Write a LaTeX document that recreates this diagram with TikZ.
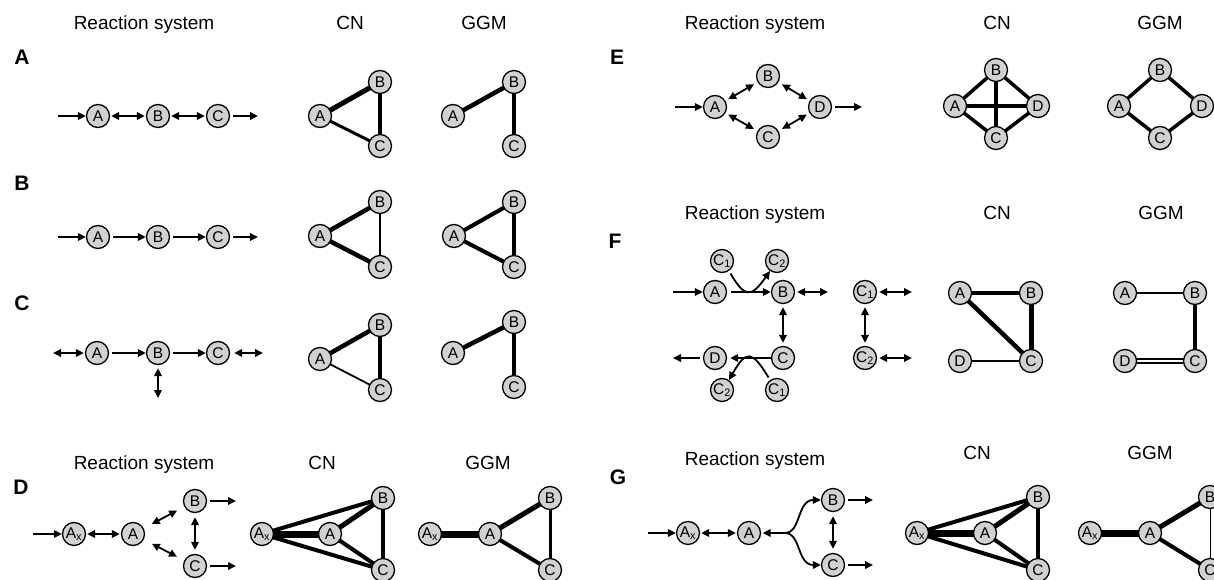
\documentclass[tikz,border=0pt]{standalone}
\usepackage{fontspec}
\setmainfont{Liberation Sans}
\usetikzlibrary{arrows.meta,backgrounds}
\begin{document}
\begin{tikzpicture}[x=1pt,y=-1pt,
  sp/.style={circle,draw=black,line width=1.3pt,fill=black!18,minimum size=23pt,inner sep=0pt,font=\fontsize{15.5}{16}\selectfont},
  ttl/.style={font=\fontsize{19}{20}\selectfont,anchor=base},
  plab/.style={font=\fontsize{21}{22}\selectfont\bfseries},
  rx/.style={line width=1.8pt,-{Triangle[length=8pt,width=7.5pt]}},
  rxb/.style={line width=1.8pt,{Triangle[length=8pt,width=7.5pt]}-{Triangle[length=8pt,width=7.5pt]}},
  w/.style={line width=#1}]
\useasboundingbox (0,0) rectangle (1214,580);

% ---------- titles and panel letters ----------
\node[ttl] (t1) at (144,30) {Reaction system};
\node[ttl] (t2) at (350,30) {CN};
\node[ttl] (t3) at (484,30) {GGM};
\node[ttl] (t4) at (755,30) {Reaction system};
\node[ttl] (t5) at (997,30) {CN};
\node[ttl] (t6) at (1160,30) {GGM};
\node[ttl] (t7) at (755,219) {Reaction system};
\node[ttl] (t8) at (997,219) {CN};
\node[ttl] (t9) at (1161,219) {GGM};
\node[ttl] (t10) at (144,469) {Reaction system};
\node[ttl] (t11) at (322,469) {CN};
\node[ttl] (t12) at (488,469) {GGM};
\node[ttl] (t13) at (755,465) {Reaction system};
\node[ttl] (t14) at (977,459) {CN};
\node[ttl] (t15) at (1150,459) {GGM};

\node[plab] (LA) at (22,57) {A};
\node[plab] (LB) at (22,183) {B};
\node[plab] (LC) at (22,303) {C};
\node[plab] (LD) at (21,487) {D};
\node[plab] (LE) at (617,57) {E};
\node[plab] (LF) at (615,241) {F};
\node[plab] (LG) at (618,477) {G};

% ---------- panel A ----------
\node[sp] (aA) at (98,116) {A};
\node[sp] (aB) at (158,116) {B};
\node[sp] (aC) at (218,116) {C};
\coordinate (a0) at (58,116);
\coordinate (a4) at (258,116);
\draw[rx] (a0) -- (aA);
\draw[rxb,shorten <=1pt,shorten >=1pt] (aA) -- (aB);
\draw[rxb,shorten <=1pt,shorten >=1pt] (aB) -- (aC);
\draw[rx,shorten <=3pt] (aC) -- (a4);

\node[sp] (acA) at (320,116) {A};
\node[sp] (acB) at (380,82) {B};
\node[sp] (acC) at (380,146) {C};
\node[sp] (agA) at (453,116) {A};
\node[sp] (agB) at (514,82) {B};
\node[sp] (agC) at (514,146) {C};
\begin{scope}[on background layer]
\draw[w=5pt] (acA.center) -- (acB.center);
\draw[w=3pt] (acA.center) -- (acC.center);
\draw[w=4.5pt] (acB.center) -- (acC.center);
\draw[w=4.5pt] (agA.center) -- (agB.center);
\draw[w=4pt] (agB.center) -- (agC.center);
\end{scope}

% ---------- panel B ----------
\node[sp] (bA) at (98,237) {A};
\node[sp] (bB) at (158,237) {B};
\node[sp] (bC) at (218,237) {C};
\coordinate (b0) at (58,237);
\coordinate (b4) at (258,237);
\draw[rx] (b0) -- (bA);
\draw[rx,shorten <=3pt] (bA) -- (bB);
\draw[rx,shorten <=3pt] (bB) -- (bC);
\draw[rx,shorten <=3pt] (bC) -- (b4);

\node[sp] (bcA) at (320,236) {A};
\node[sp] (bcB) at (380,202) {B};
\node[sp] (bcC) at (380,267) {C};
\node[sp] (bgA) at (454,236) {A};
\node[sp] (bgB) at (514,202) {B};
\node[sp] (bgC) at (514,267) {C};
\begin{scope}[on background layer]
\draw[w=4.5pt] (bcA.center) -- (bcB.center);
\draw[w=4.5pt] (bcA.center) -- (bcC.center);
\draw[w=2.5pt] (bcB.center) -- (bcC.center);
\draw[w=4pt] (bgA.center) -- (bgB.center);
\draw[w=4pt] (bgA.center) -- (bgC.center);
\draw[w=4pt] (bgB.center) -- (bgC.center);
\end{scope}

% ---------- panel C ----------
\node[sp] (cA) at (97,353) {A};
\node[sp] (cB) at (158,353) {B};
\node[sp] (cC) at (218,353) {C};
\coordinate (c0) at (53,353);
\coordinate (c4) at (263,353);
\coordinate (cd) at (158,398);
\draw[rxb,shorten >=1pt] (c0) -- (cA);
\draw[rx,shorten <=3pt] (cA) -- (cB);
\draw[rx,shorten <=3pt] (cB) -- (cC);
\draw[rxb,shorten <=4pt] (cC) -- (c4);
\draw[rxb,shorten <=3pt] (cB) -- (cd);

\node[sp] (ccA) at (320,359) {A};
\node[sp] (ccB) at (380,325) {B};
\node[sp] (ccC) at (380,390) {C};
\node[sp] (cgA) at (453,353) {A};
\node[sp] (cgB) at (514,322) {B};
\node[sp] (cgC) at (514,387) {C};
\begin{scope}[on background layer]
\draw[w=4.5pt] (ccA.center) -- (ccB.center);
\draw[w=1.8pt] (ccA.center) -- (ccC.center);
\draw[w=4pt] (ccB.center) -- (ccC.center);
\draw[w=4.5pt] (cgA.center) -- (cgB.center);
\draw[w=4pt] (cgB.center) -- (cgC.center);
\end{scope}

% ---------- panel D ----------
\node[sp] (dAx) at (74,534) {A\textsubscript{x}};
\node[sp] (dA) at (133,534) {A};
\node[sp] (dB) at (195,501) {B};
\node[sp] (dC) at (195,566) {C};
\coordinate (d0) at (33,534);
\coordinate (dB1) at (236,501);
\coordinate (dC1) at (236,566);
\draw[rx] (d0) -- (dAx);
\draw[rxb,shorten <=1pt,shorten >=1pt] (dAx) -- (dA);
\draw[rxb,shorten <=9pt,shorten >=8pt] (dA) -- (dB);
\draw[rxb,shorten <=9pt,shorten >=8pt] (dA) -- (dC);
\draw[rxb,shorten <=4pt,shorten >=4pt] (dB) -- (dC);
\draw[rx,shorten <=3pt] (dB) -- (dB1);
\draw[rx,shorten <=3pt] (dC) -- (dC1);

\node[sp] (dcAx) at (262,534) {A\textsubscript{x}};
\node[sp] (dcA) at (330,534) {A};
\node[sp] (dcB) at (383,498) {B};
\node[sp] (dcC) at (383,570) {C};
\node[sp] (dgAx) at (430,534) {A\textsubscript{x}};
\node[sp] (dgA) at (490,534) {A};
\node[sp] (dgB) at (550,498) {B};
\node[sp] (dgC) at (550,570) {C};
\begin{scope}[on background layer]
\draw[w=7pt] (dcAx.center) -- (dcA.center);
\draw[w=4pt] (dcAx.center) -- (dcB.center);
\draw[w=4pt] (dcAx.center) -- (dcC.center);
\draw[w=5pt] (dcA.center) -- (dcB.center);
\draw[w=4pt] (dcA.center) -- (dcC.center);
\draw[w=3.5pt] (dcB.center) -- (dcC.center);
\draw[w=7pt] (dgAx.center) -- (dgA.center);
\draw[w=5pt] (dgA.center) -- (dgB.center);
\draw[w=4pt] (dgA.center) -- (dgC.center);
\draw[w=3pt] (dgB.center) -- (dgC.center);
\end{scope}

% ---------- panel E ----------
\node[sp] (eA) at (715,107) {A};
\node[sp] (eB) at (768,76) {B};
\node[sp] (eC) at (768,137) {C};
\node[sp] (eD) at (820,107) {D};
\coordinate (e0) at (675,107);
\coordinate (e4) at (862,107);
\draw[rx] (e0) -- (eA);
\draw[rxb,shorten <=3pt,shorten >=4pt] (eA) -- (eB);
\draw[rxb,shorten <=3pt,shorten >=4pt] (eA) -- (eC);
\draw[rxb,shorten <=4pt,shorten >=3pt] (eB) -- (eD);
\draw[rxb,shorten <=4pt,shorten >=3pt] (eC) -- (eD);
\draw[rx,shorten <=3pt] (eD) -- (e4);

\node[sp] (ecA) at (955,106) {A};
\node[sp] (ecB) at (996,70) {B};
\node[sp] (ecC) at (996,138) {C};
\node[sp] (ecD) at (1038,106) {D};
\node[sp] (egA) at (1119,106) {A};
\node[sp] (egB) at (1160,70) {B};
\node[sp] (egC) at (1160,138) {C};
\node[sp] (egD) at (1202,106) {D};
\begin{scope}[on background layer]
\draw[w=3.5pt] (ecA.center) -- (ecB.center);
\draw[w=3.5pt] (ecA.center) -- (ecC.center);
\draw[w=3.5pt] (ecB.center) -- (ecD.center);
\draw[w=3.5pt] (ecC.center) -- (ecD.center);
\draw[w=3.5pt] (ecA.center) -- (ecD.center);
\draw[w=3.5pt] (ecB.center) -- (ecC.center);
\draw[w=3.5pt] (egA.center) -- (egB.center);
\draw[w=3.5pt] (egA.center) -- (egC.center);
\draw[w=3.5pt] (egB.center) -- (egD.center);
\draw[w=3.5pt] (egC.center) -- (egD.center);
\end{scope}

% ---------- panel F ----------
\node[sp] (fA) at (715,292) {A};
\node[sp] (fB) at (783,292) {B};
\node[sp] (fC) at (783,358) {C};
\node[sp] (fD) at (715,358) {D};
\node[sp] (fC1t) at (722,261) {C\textsubscript{1}};
\node[sp] (fC2t) at (777,261) {C\textsubscript{2}};
\node[sp] (fC2b) at (722,390) {C\textsubscript{2}};
\node[sp] (fC1b) at (777,390) {C\textsubscript{1}};
\node[sp] (fC1r) at (865,292) {C\textsubscript{1}};
\node[sp] (fC2r) at (865,358) {C\textsubscript{2}};
\coordinate (f0) at (673,292);
\coordinate (fB1) at (828,292);
\coordinate (fD0) at (673,358);
\coordinate (fC1r1) at (912,292);
\coordinate (fC2r1) at (912,358);
\draw[rx] (f0) -- (fA);
\draw[rx,shorten <=4pt] (fA) -- (fB);
\draw[rx,shorten <=3pt] (fC1t.-55) .. controls (745,298) and (751,298) .. (fC2t.-125);
\draw[rxb,shorten <=2pt] (fB) -- (fB1);
\draw[rxb,shorten <=3pt,shorten >=3pt] (fB) -- (fC);
\draw[rx,shorten >=3pt] (fC) -- (fD);
\draw[rx,shorten <=3pt] (fD) -- (fD0);
\draw[rx,shorten <=3pt] (fC1b.125) .. controls (752,350) and (746,350) .. (fC2b.55);
\draw[rxb,shorten <=2pt] (fC1r) -- (fC1r1);
\draw[rxb,shorten <=2pt] (fC2r) -- (fC2r1);
\draw[rxb,shorten <=3pt,shorten >=3pt] (fC1r) -- (fC2r);

\node[sp] (fcA) at (960,293) {A};
\node[sp] (fcB) at (1031,293) {B};
\node[sp] (fcC) at (1031,361) {C};
\node[sp] (fcD) at (960,361) {D};
\node[sp] (fgA) at (1125,293) {A};
\node[sp] (fgB) at (1195,293) {B};
\node[sp] (fgC) at (1195,361) {C};
\node[sp] (fgD) at (1125,361) {D};
\begin{scope}[on background layer]
\draw[w=3.5pt] (fcA.center) -- (fcB.center);
\draw[w=4.5pt] (fcA.center) -- (fcC.center);
\draw[w=5pt] (fcB.center) -- (fcC.center);
\draw[w=2pt] (fcD.center) -- (fcC.center);
\draw[w=2pt] (fgA.center) -- (fgB.center);
\draw[w=4pt] (fgB.center) -- (fgC.center);
\draw[line width=2pt,double=white,double distance=1.2pt] (fgD.center) -- (fgC.center);
\end{scope}

% ---------- panel G ----------
\node[sp] (gAx) at (688,533) {A\textsubscript{x}};
\node[sp] (gA) at (749,533) {A};
\node[sp] (gB) at (833,500) {B};
\node[sp] (gC) at (833,565) {C};
\coordinate (g0) at (648,533);
\coordinate (gbr) at (785,533);
\coordinate (gB1) at (873,500);
\coordinate (gC1) at (873,565);
\draw[rx] (g0) -- (gAx);
\draw[rxb,shorten <=1pt,shorten >=1pt] (gAx) -- (gA);
\draw[rx,shorten >=1.5pt] (gbr) -- (gA);
\draw[rx] (gbr) .. controls (801,533) and (797,500) .. (gB.west);
\draw[rx] (gbr) .. controls (801,533) and (797,565) .. (gC.west);
\draw[rxb,shorten <=4pt,shorten >=4pt] (gB) -- (gC);
\draw[rx,shorten <=3pt] (gB) -- (gB1);
\draw[rx,shorten <=3pt] (gC) -- (gC1);

\node[sp] (gcAx) at (917,533) {A\textsubscript{x}};
\node[sp] (gcA) at (985,533) {A};
\node[sp] (gcB) at (1038,497) {B};
\node[sp] (gcC) at (1038,570) {C};
\node[sp] (ggAx) at (1090,533) {A\textsubscript{x}};
\node[sp] (ggA) at (1150,533) {A};
\node[sp] (ggB) at (1210,497) {B};
\node[sp] (ggC) at (1210,570) {C};
\begin{scope}[on background layer]
\draw[w=7pt] (gcAx.center) -- (gcA.center);
\draw[w=4pt] (gcAx.center) -- (gcB.center);
\draw[w=4pt] (gcAx.center) -- (gcC.center);
\draw[w=5pt] (gcA.center) -- (gcB.center);
\draw[w=4pt] (gcA.center) -- (gcC.center);
\draw[w=4pt] (gcB.center) -- (gcC.center);
\draw[w=7pt] (ggAx.center) -- (ggA.center);
\draw[w=5pt] (ggA.center) -- (ggB.center);
\draw[w=4pt] (ggA.center) -- (ggC.center);
\draw[w=1pt] (ggB.center) -- (ggC.center);
\end{scope}
\end{tikzpicture}
\end{document}
